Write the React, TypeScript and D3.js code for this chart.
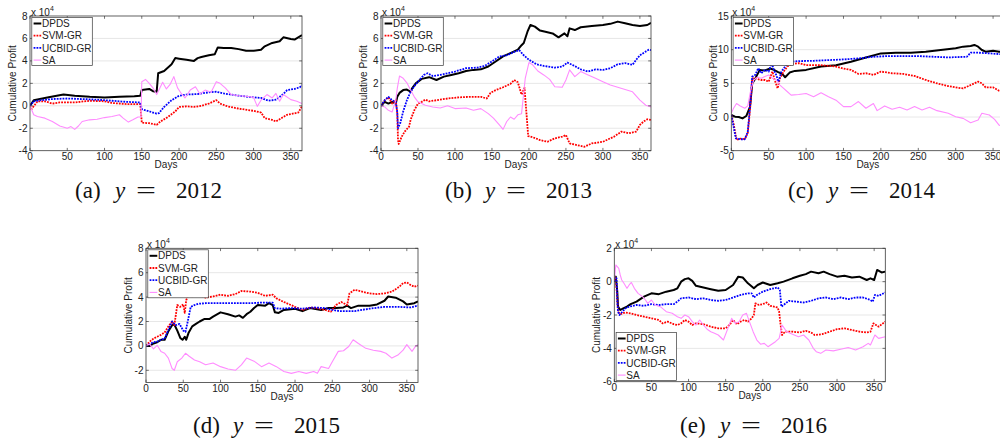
import React from 'react';
import * as d3 from 'd3';

type Pt = [number, number];

const SERIES_NAMES = ['DPDS', 'SVM-GR', 'UCBID-GR', 'SA'];
const YEARS = [2012, 2013, 2014, 2015, 2016];
const LETTERS = ['a', 'b', 'c', 'd', 'e'];
const X_TICKS = [0, 50, 100, 150, 200, 250, 300, 350];
const Y_TICKS_A = [-4, -2, 0, 2, 4, 6, 8];
const Y_TICKS_B = [-4, -2, 0, 2, 4, 6, 8];
const Y_TICKS_C = [-5, 0, 5, 10, 15];
const Y_TICKS_D = [-2, 0, 2, 4, 6, 8];
const Y_TICKS_E = [-6, -4, -2, 0, 2];
const Y_LABEL = 'Cumulative Profit';
const X_LABEL = 'Days';

// ---- 2012 (values in 10^4) ----
const DPDS_2012: Pt[] = [[0,0],[5,0.5],[25,0.77],[45,1.0],[60,0.9],[80,0.8],[100,0.75],[120,0.8],[140,0.85],[148,0.9],[150,1.4],[160,1.5],[165,1.3],[170,1.25],[172,2.9],[180,3.1],[190,3.7],[195,4.25],[200,4.2],[210,4.1],[220,4.0],[225,4.25],[230,4.35],[240,4.5],[248,4.6],[252,5.2],[260,5.15],[270,5.15],[280,5.05],[290,4.9],[300,4.9],[310,5.0],[315,5.3],[325,5.6],[335,5.75],[340,6.1],[350,5.95],[355,5.9],[360,6.1],[365,6.3]];
const SVM_2012: Pt[] = [[0,0],[2,-0.3],[10,0.4],[20,0.4],[30,0.2],[40,0.3],[60,0.3],[80,0.45],[100,0.4],[110,0.25],[130,0.15],[148,0.15],[150,-1.5],[160,-1.55],[170,-1.7],[175,-1.4],[185,-1.0],[195,-0.5],[200,-0.1],[210,-0.05],[220,-0.1],[230,0],[240,0.2],[250,0.5],[255,0.2],[265,-0.05],[280,-0.25],[300,-0.45],[310,-0.6],[315,-1.1],[325,-1.25],[330,-1.4],[335,-1.2],[345,-0.8],[360,-0.6],[365,-0.05]];
const UCB_2012: Pt[] = [[0,0],[5,0.4],[15,0.5],[30,0.6],[50,0.65],[70,0.6],[90,0.55],[110,0.45],[130,0.35],[148,0.3],[150,-0.3],[160,-0.5],[170,-0.7],[173,-0.65],[180,-0.1],[190,0.5],[200,0.9],[210,1.0],[225,1.05],[240,1.2],[250,1.25],[260,1.1],[280,0.9],[300,0.75],[310,0.7],[320,0.45],[330,0.55],[340,1.05],[345,1.4],[355,1.5],[362,1.65],[365,1.85]];
const SA_2012: Pt[] = [[0,0],[5,-0.8],[10,-0.95],[20,-1.1],[30,-1.4],[40,-1.8],[50,-2.0],[55,-1.85],[60,-2.1],[65,-1.8],[70,-1.4],[80,-1.25],[90,-1.2],[100,-1.05],[110,-0.95],[120,-0.8],[125,-1.1],[132,-1.45],[138,-1.25],[145,-1.0],[149,-1.0],[150,2.15],[155,2.35],[160,2.0],[165,1.6],[170,1.0],[173,1.4],[178,2.1],[183,1.5],[188,1.9],[193,2.6],[198,1.6],[203,1.1],[208,0.7],[215,1.4],[222,1.7],[228,1.05],[235,1.4],[243,1.2],[250,2.15],[255,2.0],[262,1.6],[270,1.0],[280,0.9],[290,0.85],[300,0.75],[305,-0.05],[310,0.5],[318,1.0],[325,0.7],[330,1.1],[335,0.4],[340,1.0],[350,0.55],[358,0.4],[365,0.2]];

// ---- 2013 ----
const DPDS_2013: Pt[] = [[0,0],[5,0.35],[10,0.2],[15,0.35],[20,0.2],[22,0.8],[25,1.15],[30,1.4],[35,1.45],[40,1.25],[42,1.55],[47,2.0],[55,2.4],[65,2.55],[75,2.3],[85,2.6],[95,2.75],[105,2.9],[115,3.1],[125,3.2],[135,3.25],[145,3.5],[155,3.95],[165,4.4],[175,4.7],[185,5.0],[190,5.4],[193,5.6],[198,6.6],[202,7.2],[208,7.05],[215,6.7],[225,6.55],[232,6.45],[240,6.1],[248,6.45],[252,6.2],[255,6.9],[262,6.75],[270,7.0],[285,7.1],[300,7.2],[310,7.3],[320,7.5],[330,7.35],[340,7.2],[350,7.1],[360,7.2],[365,7.4]];
const SVM_2013: Pt[] = [[0,0],[5,0.5],[10,0.75],[15,0.2],[20,0.5],[22,-0.7],[23,-3.05],[24,-3.4],[28,-2.75],[32,-2.3],[38,-1.85],[40,-1.25],[45,-0.4],[50,0.2],[55,0.35],[60,0.55],[65,0.4],[75,0.5],[90,0.65],[105,0.75],[120,0.8],[135,0.8],[143,0.65],[148,1.15],[155,1.4],[165,1.65],[175,1.95],[180,2.3],[185,2.1],[190,1.0],[194,1.6],[199,-2.7],[205,-2.8],[215,-3.05],[225,-3.2],[235,-2.9],[245,-2.75],[250,-2.6],[255,-3.35],[265,-3.5],[275,-3.65],[285,-3.35],[300,-3.2],[315,-2.75],[325,-2.3],[335,-2.45],[345,-2.3],[350,-1.7],[355,-1.4],[360,-1.2],[365,-1.25]];
const UCB_2013: Pt[] = [[0,0],[5,0.5],[10,0.8],[15,0.5],[20,0.35],[22,-0.55],[23,-2.0],[26,-1.55],[30,-0.5],[35,0.5],[40,1.25],[45,1.75],[50,2.15],[58,2.75],[63,2.9],[70,2.65],[80,2.75],[90,2.9],[100,3.05],[115,3.35],[130,3.4],[140,3.55],[150,3.95],[160,4.4],[170,4.5],[180,4.8],[187,4.95],[193,4.5],[200,4.1],[210,3.7],[220,3.55],[235,3.4],[245,3.5],[252,3.85],[260,3.6],[270,3.25],[280,3.05],[290,3.25],[300,3.2],[310,3.35],[320,3.7],[330,3.8],[340,3.65],[345,4.1],[350,4.5],[357,4.8],[362,5.0],[365,4.95]];
const SA_2013: Pt[] = [[0,0],[5,-0.1],[10,-0.4],[15,-0.55],[20,0.5],[22,1.55],[25,2.65],[30,2.45],[35,2.05],[40,1.4],[45,0.8],[50,0.35],[60,0.05],[70,-0.1],[80,-0.2],[90,0],[100,-0.25],[115,-0.2],[125,-0.4],[135,-0.25],[145,-0.7],[152,-1.1],[160,-1.7],[165,-2.1],[170,-1.4],[175,-1.0],[180,-1.2],[185,-0.8],[190,-0.7],[195,2.45],[200,3.85],[205,3.65],[212,3.1],[220,2.75],[228,2.35],[235,1.7],[245,1.65],[250,2.3],[255,3.2],[262,2.6],[270,3.05],[280,2.75],[290,2.45],[300,2.15],[310,1.85],[320,1.65],[330,1.45],[340,1.25],[350,0.5],[358,0.05],[365,-0.1]];

// ---- 2014 ----
const DPDS_2014: Pt[] = [[0,0.3],[5,0.05],[10,0],[15,-0.2],[20,0.15],[25,1.5],[28,5.0],[32,5.7],[38,7.0],[45,6.9],[52,7.2],[57,7.0],[62,6.7],[68,6.4],[72,5.9],[78,6.6],[85,6.85],[100,7.0],[120,7.5],[140,7.7],[160,8.2],[180,8.85],[200,9.45],[220,9.55],[240,9.55],[260,9.7],[280,9.95],[300,10.2],[310,10.45],[320,10.55],[325,10.7],[330,10.45],[335,9.95],[340,9.7],[350,9.85],[358,9.7],[365,9.7]];
const SVM_2014: Pt[] = [[0,0.3],[3,-0.95],[7,-3.4],[12,-3.2],[18,-3.3],[22,-2.4],[25,1.05],[28,5.75],[32,5.75],[40,5.5],[45,5.5],[50,5.25],[55,6.75],[58,5.5],[62,4.25],[65,5.75],[70,6.75],[75,7.5],[80,7.85],[90,8.0],[100,7.7],[120,7.7],[140,7.5],[150,7.2],[160,7.0],[170,6.4],[180,6.5],[190,6.25],[200,6.75],[215,6.5],[230,6.4],[245,6.1],[260,5.5],[275,5.0],[290,4.6],[300,4.4],[310,4.25],[320,4.75],[330,5.25],[335,5.0],[340,4.4],[350,4.4],[358,3.9],[365,3.7]];
const UCB_2014: Pt[] = [[0,0.3],[3,-1.4],[6,-3.15],[12,-3.3],[18,-3.3],[22,-2.2],[25,1.5],[28,6.0],[32,6.25],[36,7.25],[40,6.5],[45,7.0],[50,6.75],[54,8.0],[57,7.0],[60,6.25],[63,5.25],[67,6.75],[72,7.5],[78,8.2],[90,8.3],[110,8.35],[130,8.45],[150,8.55],[170,8.7],[190,8.95],[210,9.05],[230,9.05],[250,9.05],[270,8.95],[290,8.85],[315,8.95],[320,9.55],[330,9.55],[345,9.45],[358,9.35],[365,9.3]];
const SA_2014: Pt[] = [[0,0.55],[3,1.3],[7,2.0],[12,1.65],[18,1.3],[22,1.65],[26,4.0],[30,5.5],[35,5.9],[40,5.75],[45,6.0],[50,6.25],[55,5.75],[60,5.5],[65,4.75],[70,4.25],[75,3.75],[80,3.25],[90,3.35],[100,3.5],[110,3.0],[120,3.6],[130,3.0],[140,2.5],[150,1.55],[160,1.55],[170,2.3],[180,1.3],[190,2.0],[195,0.95],[205,1.65],[215,1.15],[225,1.45],[235,1.05],[245,1.55],[255,1.05],[265,1.45],[275,0.95],[290,0.55],[300,0.05],[310,-0.2],[320,-0.85],[330,-0.45],[335,0.55],[345,0.3],[352,-0.35],[358,-1.2],[365,-1.4]];

// ---- 2015 ----
const DPDS_2015: Pt[] = [[0,0],[5,0],[10,0.2],[15,0.3],[20,0.5],[25,0.5],[30,1.2],[35,1.7],[38,1.75],[42,1.25],[46,0.65],[49,0.5],[52,0.75],[54,0.5],[57,1.05],[62,1.6],[67,1.8],[72,2.0],[78,2.2],[85,2.2],[90,2.4],[100,2.75],[110,2.6],[120,2.4],[125,2.5],[130,2.3],[135,2.6],[140,2.8],[145,3.1],[150,3.35],[160,3.3],[165,3.5],[170,3.35],[173,2.75],[178,2.7],[185,2.95],[200,3.05],[210,2.85],[220,3.1],[235,2.95],[245,3.1],[255,3.1],[265,3.15],[270,3.3],[275,3.1],[285,3.3],[300,3.3],[310,3.4],[320,3.7],[325,4.05],[335,3.95],[345,3.65],[350,3.4],[360,3.5],[365,3.65]];
const SVM_2015: Pt[] = [[0,0],[5,0.35],[10,0.6],[15,0.75],[20,0.9],[25,1.1],[30,1.6],[35,2.0],[38,1.7],[42,3.35],[46,3.2],[50,3.4],[52,2.7],[54,3.75],[57,4.2],[62,4.05],[70,4.2],[80,3.95],[90,4.05],[100,4.2],[110,4.1],[120,4.25],[128,4.5],[140,4.45],[150,4.35],[160,4.1],[170,4.2],[175,3.9],[185,3.6],[200,3.2],[210,2.95],[220,3.15],[230,3.1],[240,2.95],[248,2.8],[255,3.35],[262,3.6],[270,3.35],[273,4.3],[280,4.6],[290,4.45],[300,4.3],[310,4.25],[320,4.3],[330,4.45],[340,4.85],[345,5.15],[350,5.2],[355,5.0],[360,4.85],[365,4.95]];
const UCB_2015: Pt[] = [[0,0],[5,0.15],[10,0.3],[15,0.35],[20,0.5],[25,0.6],[30,1.3],[35,2.0],[40,1.7],[45,1.8],[50,1.25],[53,1.15],[56,2.0],[60,3.2],[65,3.35],[70,3.45],[80,3.5],[100,3.5],[120,3.5],[140,3.5],[155,3.55],[170,3.55],[173,3.1],[180,3.05],[195,3.1],[210,3.05],[225,3.15],[240,3.1],[250,2.95],[260,2.85],[280,2.85],[300,3.05],[320,3.2],[340,3.2],[355,3.15],[365,3.3]];
const SA_2015: Pt[] = [[0,0],[5,0.15],[10,-0.25],[15,0.05],[20,-0.45],[25,-0.6],[30,-1.0],[35,-1.85],[38,-2.0],[42,-1.3],[48,-1.0],[53,-0.6],[58,-0.85],[65,-1.15],[72,-1.3],[80,-1.55],[90,-1.4],[100,-1.7],[110,-1.9],[120,-2.0],[128,-1.55],[135,-1.0],[145,-1.25],[155,-1.7],[165,-1.4],[175,-1.7],[185,-2.1],[195,-2.25],[205,-2.1],[215,-2.25],[225,-2.1],[230,-2.25],[235,-1.7],[245,-1.85],[250,-1.3],[258,-0.45],[265,-0.4],[272,-0.05],[278,0.5],[285,0.2],[295,-0.2],[305,-0.35],[315,-0.45],[322,-0.6],[330,-1.0],[338,-0.75],[345,-0.35],[350,0.1],[357,-0.45],[362,0],[365,0.1]];

// ---- 2016 ----
const DPDS_2016: Pt[] = [[0,0],[2,0.3],[4,-0.6],[5,-1.5],[8,-1.7],[12,-1.6],[17,-1.5],[22,-1.35],[30,-1.2],[40,-0.9],[50,-0.7],[60,-0.75],[70,-0.6],[80,-0.5],[85,-0.4],[90,0],[95,0.15],[100,0.2],[105,0.05],[110,-0.25],[120,-0.35],[130,-0.45],[140,-0.55],[150,-0.5],[160,-0.2],[167,0.3],[173,0.25],[180,-0.1],[188,-0.4],[193,-0.2],[200,-0.05],[210,-0.2],[220,-0.1],[228,0],[240,0.2],[250,0.35],[258,0.45],[265,0.6],[275,0.5],[282,0.6],[290,0.45],[300,0.3],[310,0.35],[320,0.25],[330,0.3],[340,0.1],[345,0.2],[350,0.1],[354,0.7],[360,0.55],[365,0.6]];
const SVM_2016: Pt[] = [[0,0],[2,0.2],[4,-1.0],[5,-1.8],[8,-1.95],[15,-1.85],[22,-1.9],[30,-2.0],[40,-2.1],[50,-2.2],[60,-2.3],[65,-2.5],[72,-2.4],[80,-2.55],[85,-2.6],[90,-2.5],[95,-2.3],[100,-2.4],[105,-2.6],[110,-2.5],[120,-2.55],[130,-2.7],[140,-2.8],[150,-2.8],[155,-2.6],[160,-2.3],[165,-2.55],[170,-2.4],[175,-2.3],[180,-2.4],[185,-2.2],[188,-2.0],[190,-1.3],[195,-1.4],[200,-1.35],[205,-1.25],[210,-1.45],[215,-1.5],[220,-1.55],[222,-1.8],[224,-2.6],[226,-3.2],[230,-3.0],[240,-3.0],[250,-3.05],[258,-2.95],[265,-3.05],[270,-3.2],[280,-3.15],[290,-3.0],[300,-2.85],[310,-2.8],[320,-2.9],[330,-3.0],[340,-3.05],[345,-3.0],[349,-2.5],[356,-2.7],[365,-2.4]];
const UCB_2016: Pt[] = [[0,0],[3,0.2],[4,-1.0],[5,-1.8],[7,-2.0],[10,-1.85],[15,-1.6],[20,-1.5],[30,-1.4],[40,-1.45],[50,-1.35],[60,-1.4],[70,-1.35],[80,-1.35],[85,-1.2],[90,-1.0],[100,-0.95],[110,-1.05],[120,-1.0],[130,-1.1],[140,-1.15],[150,-1.1],[160,-0.95],[170,-0.8],[180,-0.7],[185,-0.7],[188,-0.95],[192,-0.8],[200,-0.6],[210,-0.45],[220,-0.35],[223,-0.5],[225,-1.5],[228,-1.4],[235,-1.15],[245,-1.2],[255,-1.25],[265,-1.15],[275,-1.0],[285,-0.95],[295,-1.05],[305,-0.95],[315,-1.05],[325,-0.95],[335,-0.95],[345,-1.1],[348,-1.2],[351,-0.8],[356,-0.85],[365,-0.65]];
const SA_2016: Pt[] = [[0,0],[2,1.0],[4,0.9],[6,0.8],[8,0.4],[10,0.1],[13,-0.1],[17,-0.4],[20,-0.2],[23,-0.05],[27,-0.4],[32,-0.7],[38,-0.9],[42,-1.1],[45,-1.3],[50,-1.1],[55,-1.4],[62,-1.5],[70,-1.8],[78,-1.9],[85,-2.1],[90,-2.2],[95,-2.0],[100,-2.1],[105,-2.4],[110,-2.6],[115,-2.3],[120,-2.6],[125,-2.85],[130,-3.0],[135,-3.1],[140,-3.2],[147,-3.5],[153,-2.8],[158,-2.2],[163,-2.5],[168,-2.4],[173,-2.0],[178,-1.9],[182,-2.4],[187,-3.0],[192,-3.5],[197,-3.75],[202,-3.7],[207,-3.9],[212,-3.75],[217,-3.6],[222,-3.4],[226,-2.6],[232,-3.0],[240,-3.15],[248,-3.3],[255,-3.2],[262,-3.5],[268,-4.0],[272,-4.2],[278,-4.3],[285,-4.1],[295,-4.15],[305,-4.05],[315,-3.95],[325,-4.1],[335,-3.9],[342,-3.7],[345,-3.8],[351,-3.2],[356,-3.4],[365,-3.3]];

const PANEL_DATA: Pt[][][] = [
  [DPDS_2012, SVM_2012, UCB_2012, SA_2012],
  [DPDS_2013, SVM_2013, UCB_2013, SA_2013],
  [DPDS_2014, SVM_2014, UCB_2014, SA_2014],
  [DPDS_2015, SVM_2015, UCB_2015, SA_2015],
  [DPDS_2016, SVM_2016, UCB_2016, SA_2016],
];

// ---- styles / layout ----
const SERIES_STYLE = [
  { color: '#000000', width: 2, dash: undefined as string | undefined },
  { color: '#ff0000', width: 1.8, dash: '1.8,1.1' },
  { color: '#0000ff', width: 1.8, dash: '1.8,1.1' },
  { color: '#ff8cff', width: 1.1, dash: undefined as string | undefined },
];

const LAYOUT = [
  { left: 30, top: 16, width: 272, height: 134.7, yDomain: [-4, 8], yTicks: Y_TICKS_A, legend: 'tl', capX: 75, capY: 198 },
  { left: 381, top: 16, width: 270, height: 134.7, yDomain: [-4, 8], yTicks: Y_TICKS_B, legend: 'tl', capX: 445, capY: 198 },
  { left: 731.3, top: 16, width: 273, height: 134.7, yDomain: [-5, 15], yTicks: Y_TICKS_C, legend: 'tl', capX: 788, capY: 198 },
  { left: 146, top: 248.3, width: 272, height: 134.2, yDomain: [-3, 8], yTicks: Y_TICKS_D, legend: 'tl', capX: 193, capY: 433 },
  { left: 614.3, top: 248.3, width: 271, height: 133.4, yDomain: [-6, 2], yTicks: Y_TICKS_E, legend: 'bl', capX: 680, capY: 433 },
];

const SANS = '"Liberation Sans", Arial, Helvetica, sans-serif';
const SERIF = '"Liberation Serif", "Times New Roman", serif';
const TXT = '#222';
const AX = '#3a3a3a';

function Panel({ idx }: { idx: number }) {
  const L = LAYOUT[idx];
  const data = PANEL_DATA[idx];
  const x = d3.scaleLinear().domain([0, 365]).range([L.left, L.left + L.width]);
  const y = d3.scaleLinear().domain(L.yDomain).range([L.top + L.height, L.top]);
  const line = d3.line<Pt>().x((d) => x(d[0])).y((d) => y(d[1]));
  const bottom = L.top + L.height;
  const right = L.left + L.width;
  const clipId = `clip-${idx}`;
  const tl = 2.8;

  const legW = 60.5;
  const legH = 48;
  const legX = L.left + 1.8;
  const legY = L.legend === 'tl' ? L.top + 1.5 : bottom - 1.2 - legH;

  return (
    <g>
      <defs>
        <clipPath id={clipId}>
          <rect x={L.left} y={L.top} width={L.width} height={L.height} />
        </clipPath>
      </defs>
      <rect x={L.left} y={L.top} width={L.width} height={L.height} fill="#fff" />
      {/* grid */}
      {L.yTicks.filter((t) => t > L.yDomain[0] && t < L.yDomain[1]).map((t) => (
        <line key={`g${t}`} x1={L.left} x2={right} y1={y(t)} y2={y(t)} stroke="#e4e4e4" strokeWidth={0.9} />
      ))}
      {/* series */}
      <g clipPath={`url(#${clipId})`}>
        {data.map((s, i) => (
          <path key={i} d={line(s) || ''} fill="none" stroke={SERIES_STYLE[i].color}
            strokeWidth={SERIES_STYLE[i].width} strokeDasharray={SERIES_STYLE[i].dash}
            strokeLinejoin="round" />
        ))}
      </g>
      {/* box */}
      <rect x={L.left} y={L.top} width={L.width} height={L.height} fill="none" stroke={AX} strokeWidth={0.8} />
      {/* ticks */}
      {X_TICKS.map((t) => (
        <g key={`xt${t}`}>
          <line x1={x(t)} x2={x(t)} y1={bottom} y2={bottom - tl} stroke={AX} strokeWidth={0.7} />
          <line x1={x(t)} x2={x(t)} y1={L.top} y2={L.top + tl} stroke={AX} strokeWidth={0.7} />
          <text x={x(t)} y={bottom + 9} textAnchor="middle" fontSize={10} fontFamily={SANS} fill={TXT}>{t}</text>
        </g>
      ))}
      {L.yTicks.map((t) => (
        <g key={`yt${t}`}>
          <line x1={L.left} x2={L.left + tl} y1={y(t)} y2={y(t)} stroke={AX} strokeWidth={0.7} />
          <line x1={right} x2={right - tl} y1={y(t)} y2={y(t)} stroke={AX} strokeWidth={0.7} />
          <text x={L.left - 2.5} y={y(t) + 3.5} textAnchor="end" fontSize={10} fontFamily={SANS} fill={TXT}>{t}</text>
        </g>
      ))}
      {/* exponent */}
      <text x={L.left + 1} y={L.top - 0.5} fontSize={10} fontFamily={SANS} fill={TXT}>
        x 10<tspan dy={-4.5} fontSize={7}>4</tspan>
      </text>
      {/* axis labels */}
      <text x={(L.left + right) / 2} y={bottom + 17.5} textAnchor="middle" fontSize={10} fontFamily={SANS} fill={TXT}>{X_LABEL}</text>
      <text transform={`translate(${L.left - 14},${L.top + L.height / 2}) rotate(-90)`} textAnchor="middle"
        fontSize={10} fontFamily={SANS} fill={TXT}>{Y_LABEL}</text>
      {/* legend */}
      <rect x={legX} y={legY} width={legW} height={legH} fill="#fff" stroke={AX} strokeWidth={0.7} />
      {SERIES_NAMES.map((n, i) => {
        const cy = legY + 6 + i * 12.2;
        return (
          <g key={n}>
            <line x1={legX + 1.8} x2={legX + 9.5} y1={cy} y2={cy} stroke={SERIES_STYLE[i].color}
              strokeWidth={SERIES_STYLE[i].width} strokeDasharray={SERIES_STYLE[i].dash} />
            <text x={legX + 10.2} y={cy + 3.6} fontSize={10} fontFamily={SANS} fill={TXT}>{n}</text>
          </g>
        );
      })}
      {/* caption */}
      <g fontFamily={SERIF} fontSize={23} fill="#111">
        <text x={L.capX} y={L.capY}>({LETTERS[idx]})</text>
        <text x={L.capX + 40} y={L.capY} fontStyle="italic">y</text>
        <text x={L.capX + 61} y={L.capY} textLength={20} lengthAdjust="spacingAndGlyphs">=</text>
        <text x={L.capX + 101} y={L.capY}>{YEARS[idx]}</text>
      </g>
    </g>
  );
}

export default function App() {
  return (
    <svg width={1000} height={440} viewBox="0 0 1000 440"
      style={{ position: 'absolute', left: 0, top: 0, background: '#fff', display: 'block' }}>
      <rect x={0} y={0} width={1000} height={440} fill="#fff" />
      {LAYOUT.map((_, i) => <Panel key={i} idx={i} />)}
    </svg>
  );
}
